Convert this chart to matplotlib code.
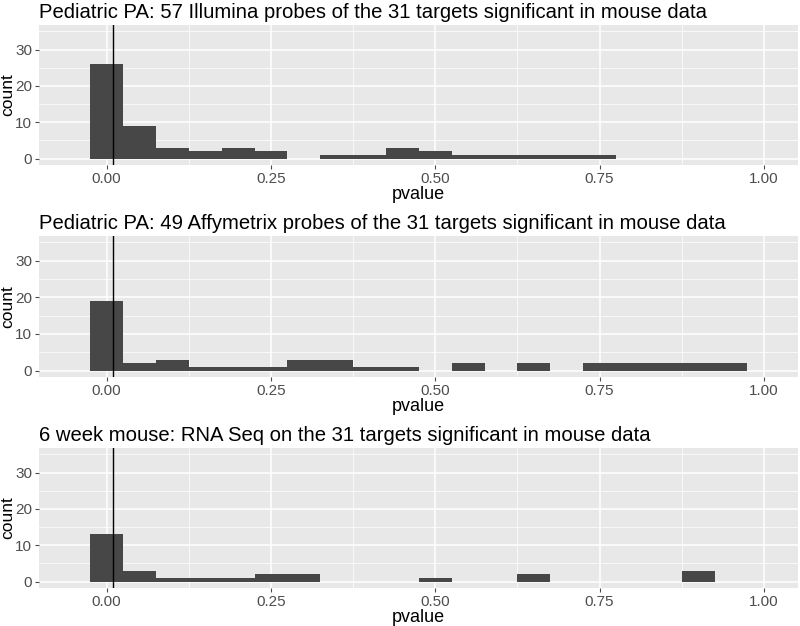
import matplotlib
matplotlib.use("Agg")
import matplotlib.pyplot as plt
import numpy as np

# histogram bins (binwidth 0.05, centred on 0, 0.05, ..., 1.00)
bin_centers = np.round(np.arange(0, 1.0001, 0.05), 2)

illumina = [26, 9, 3, 2, 3, 2, 0, 1, 1, 3, 2, 1, 1, 1, 1, 1, 0, 0, 0, 0, 0]
affymetrix = [19, 2, 3, 1, 1, 1, 3, 3, 1, 1, 0, 2, 0, 2, 0, 2, 2, 2, 2, 2, 0]
rnaseq = [13, 3, 1, 1, 1, 2, 2, 0, 0, 0, 1, 0, 0, 2, 0, 0, 0, 0, 3, 0, 0]

titles = [
    "Pediatric PA: 57 Illumina probes of the 31 targets significant in mouse data",
    "Pediatric PA: 49 Affymetrix probes of the 31 targets significant in mouse data",
    "6 week mouse: RNA Seq on the 31 targets significant in mouse data",
]
cutoff = 0.01

x_ticks = [0.0, 0.25, 0.5, 0.75, 1.0]
x_labels = ["0.00", "0.25", "0.50", "0.75", "1.00"]
y_ticks = [0, 10, 20, 30]

plt.rcParams["font.family"] = ["Liberation Sans", "DejaVu Sans"]

fig = plt.figure(figsize=(8, 6.26), dpi=100)
W, H = 800, 626
# panel boxes in pixels: (top, bottom)
panels = [(25, 165), (236, 377), (448, 588)]
left, right = 39, 798

for (top, bottom), counts, title in zip(panels, [illumina, affymetrix, rnaseq], titles):
    ax = fig.add_axes([left / W, 1 - bottom / H, (right - left) / W, (bottom - top) / H])
    ax.set_facecolor("#E8E8E8")
    for s in ax.spines.values():
        s.set_visible(False)
    ax.set_axisbelow(True)
    for v in [0.125, 0.375, 0.625, 0.875]:
        ax.axvline(v, color="white", lw=0.5, zorder=0)
    for v in [5, 15, 25, 35]:
        ax.axhline(v, color="white", lw=0.5, zorder=0)
    for v in x_ticks:
        ax.axvline(v, color="white", lw=1.1, zorder=0)
    for v in y_ticks:
        ax.axhline(v, color="white", lw=1.1, zorder=0)

    ax.bar(bin_centers, counts, width=0.05, color="#474747", zorder=2)
    ax.axvline(cutoff, color="black", lw=1.0, zorder=3)

    ax.set_xlim(-0.103, 1.052)
    ax.set_ylim(-1.75, 36.75)
    ax.set_xticks(x_ticks)
    ax.set_xticklabels(x_labels)
    ax.set_yticks(y_ticks)
    ax.tick_params(colors="#4D4D4D", labelsize=11, length=3, width=0.8, pad=2)
    ax.set_xlabel("pvalue", fontsize=13, labelpad=0)
    ax.set_ylabel("count", fontsize=12.5)
    ax.yaxis.set_label_coords(-0.031, 0.5)
    ax.set_title(title, fontsize=14.6, loc="left", x=0.0, pad=5)

fig.savefig("out.png", dpi=100)
